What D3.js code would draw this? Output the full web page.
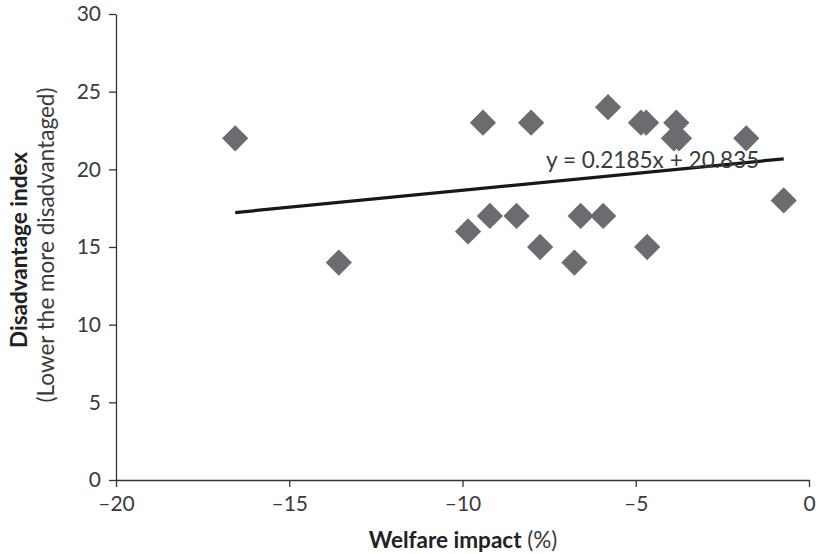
<!DOCTYPE html>
<html><head><meta charset="utf-8">
<script src="https://cdn.jsdelivr.net/npm/d3@7"></script>
<style>body{margin:0;background:#fff}svg{display:block}</style>
</head><body>
<svg id="c" width="818" height="554"></svg>
<script>
const welfareImpact = [-16.56,-13.57,-9.84,-9.41,-9.21,-8.44,-8.02,-7.76,-6.77,-6.59,-5.94,-5.80,-4.85,-4.70,-4.67,-3.83,-3.90,-3.75,-1.81,-0.73];
const disadvantage  = [22,14,16,23,17,17,23,15,14,17,17,24,23,23,15,23,22,22,22,18];
const trendSlope = 0.2185, trendIntercept = 20.835;
const trendLabel = "y = 0.2185x + 20.835";
const xTicks = [-20,-15,-10,-5,0];
const yTicks = [0,5,10,15,20,25,30];

const font = "Lato, 'Open Sans', sans-serif";
const txt = "#3a3a3c";
const svg = d3.select("#c");
const x = d3.scaleLinear().domain([-20,0]).range([116,809]);
const y = d3.scaleLinear().domain([0,30]).range([480,14]);

const fmt = v => v < 0 ? "\u2013" + Math.abs(v) : String(v);

const xa = svg.append("g").attr("transform","translate(0,480)")
  .call(d3.axisBottom(x).tickValues(xTicks).tickSize(7).tickSizeOuter(0).tickFormat(fmt));
const ya = svg.append("g").attr("transform","translate(116,0)")
  .call(d3.axisLeft(y).tickValues(yTicks).tickSize(7).tickSizeOuter(0).tickFormat(fmt));
[xa,ya].forEach(a=>{
  a.selectAll("path,line").attr("stroke","#333").attr("stroke-width",1.3);
  a.selectAll("text").attr("fill",txt).style("font-family",font).style("font-size","21px");
});
xa.selectAll("text").attr("dy",0).attr("y",31);
ya.selectAll("text").attr("x",-15);

// trend line
const xr = d3.extent(welfareImpact);
svg.append("line")
  .attr("x1",x(xr[0])).attr("y1",y(trendSlope*xr[0]+trendIntercept))
  .attr("x2",x(xr[1])).attr("y2",y(trendSlope*xr[1]+trendIntercept))
  .attr("stroke","#1a1718").attr("stroke-width",3.2);

// points
const sym = d3.symbol().type(d3.symbolSquare).size(345);
svg.append("g").selectAll("path").data(welfareImpact).join("path")
  .attr("d",sym)
  .attr("transform",(d,i)=>`translate(${x(d)},${y(disadvantage[i])}) rotate(45)`)
  .attr("fill","#6b6c70");

svg.append("text").attr("x",546).attr("y",168)
  .attr("fill",txt).style("font-family",font).style("font-size","22.6px").text(trendLabel);

// axis titles
const xt = svg.append("text").attr("x",463).attr("y",548).attr("text-anchor","middle")
  .attr("fill","#222").style("font-family",font).style("font-size","22.5px");
xt.append("tspan").attr("font-weight","bold").text("Welfare impact");
xt.append("tspan").attr("fill",txt).text(" (%)");

svg.append("text").attr("transform","translate(27,250) rotate(-90)").attr("text-anchor","middle")
  .attr("fill","#222").style("font-family",font).style("font-size","22.5px").attr("font-weight","bold")
  .text("Disadvantage index");
svg.append("text").attr("transform","translate(54,245) rotate(-90)").attr("text-anchor","middle")
  .attr("fill",txt).style("font-family",font).style("font-size","22.5px")
  .text("(Lower the more disadvantaged)");
</script>
</body></html>
